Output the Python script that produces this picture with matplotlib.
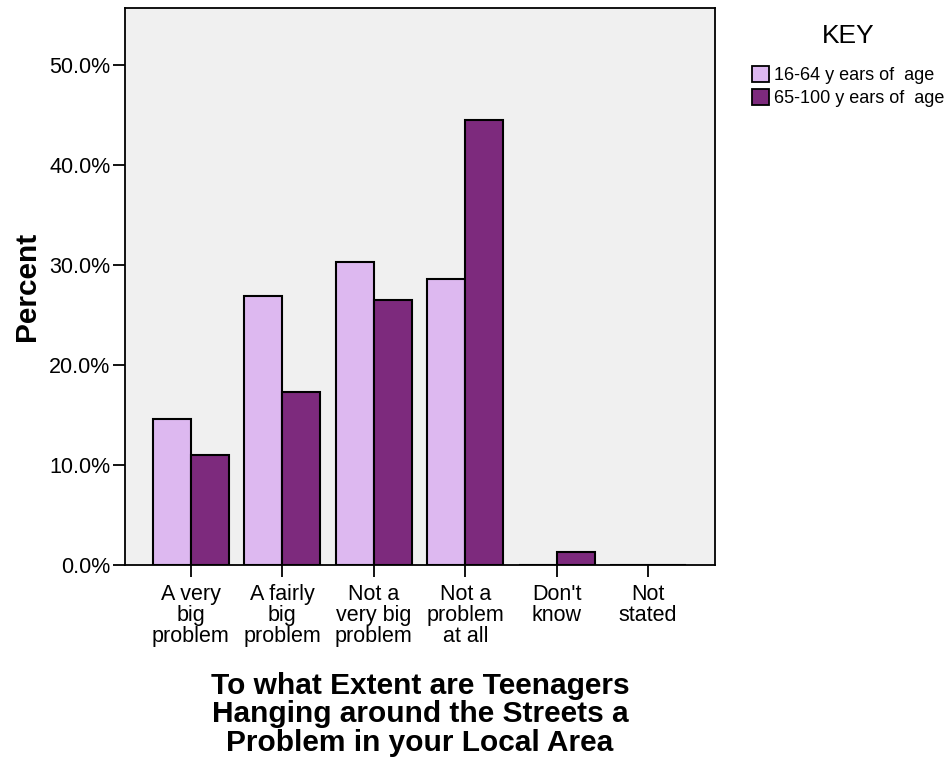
import numpy as np
import matplotlib.pyplot as plt
from matplotlib.patches import Patch

plt.rcParams['font.family'] = ['Liberation Sans', 'DejaVu Sans']

categories = ['A very\nbig\nproblem', 'A fairly\nbig\nproblem', 'Not a\nvery big\nproblem',
              'Not a\nproblem\nat all', "Don't\nknow", 'Not\nstated']
young = [14.6, 26.9, 30.3, 28.6, 0.0, 0.0]
old = [11.0, 17.3, 26.5, 44.5, 1.3, 0.0]
series_names = ['16-64 y ears of  age', '65-100 y ears of  age']
x_title = 'To what Extent are Teenagers\nHanging around the Streets a\nProblem in your Local Area'

light = '#DDB8F0'
dark = '#7D2A7D'

fig = plt.figure(figsize=(9.49, 7.59), dpi=100)
ax = fig.add_axes([0.1317, 0.2556, 0.6217, 0.7339])
ax.set_facecolor('#F0F0F0')

x = np.arange(len(categories))
w = 0.415
ax.bar(x - w / 2, young, w, color=light, edgecolor='black', linewidth=1.5)
ax.bar(x + w / 2, old, w, color=dark, edgecolor='black', linewidth=1.5)

ax.set_xlim(-0.72, 5.73)
ax.set_ylim(0, 55.7)
ax.set_yticks([0, 10, 20, 30, 40, 50])
ax.set_yticklabels(['%.1f%%' % v for v in [0, 10, 20, 30, 40, 50]], fontsize=15.5)
ax.set_xticks(x)
ax.set_xticklabels(categories, fontsize=15.5, linespacing=1.02)
ax.tick_params(axis='both', direction='out', length=8.5, width=1.3, pad=2)
ax.tick_params(axis='x', pad=5)
for s in ax.spines.values():
    s.set_linewidth(1.3)

ax.set_ylabel('Percent', fontsize=21.5, fontweight='bold', labelpad=6)
fig.text(0.4425, 0.059, x_title, fontsize=21.5, fontweight='bold',
         ha='center', va='center', linespacing=1.03)

handles = [Patch(facecolor=light, edgecolor='black', linewidth=1.3),
           Patch(facecolor=dark, edgecolor='black', linewidth=1.3)]
fig.text(0.894, 0.953, 'KEY', fontsize=19, ha='center', va='center')
fig.legend(handles, series_names, loc='upper left', bbox_to_anchor=(0.792, 0.913),
           frameon=False, fontsize=13, handlelength=0.95, handleheight=0.95,
           handletextpad=0.3, labelspacing=0.3, borderaxespad=0, borderpad=0)

fig.savefig('out.png', dpi=100)
